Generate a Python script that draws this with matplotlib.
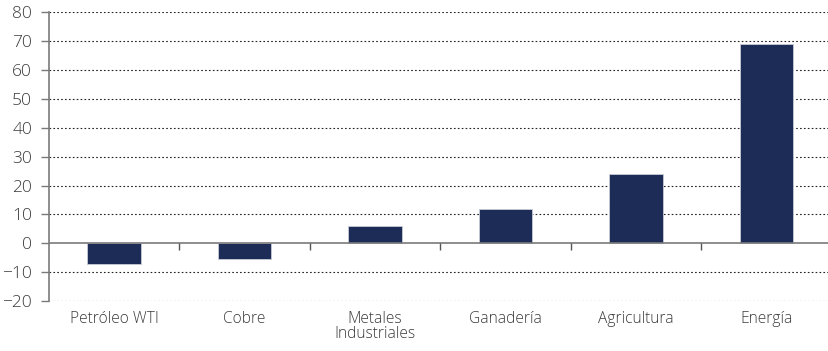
import numpy as np
import matplotlib.pyplot as plt

plt.rcParams['font.family'] = ['Open Sans', 'DejaVu Sans']

# Variación por grupo de materias primas
categorias = ['Petróleo WTI', 'Cobre', 'Metales\nIndustriales', 'Ganadería', 'Agricultura', 'Energía']
valores = [-7.1, -5.3, 6.0, 12.0, 24.0, 69.0]
yticks = [-20, -10, 0, 10, 20, 30, 40, 50, 60, 70, 80]

fig = plt.figure(figsize=(8.29, 3.51), dpi=100)
ax = fig.add_axes([0.059, 0.1425, 0.9445, 0.8225])

x = np.arange(len(categorias))
ax.bar(x, valores, width=0.41, color='#1d2b57', edgecolor='#c8ccd6', linewidth=0.6, zorder=3)

ax.set_xlim(-0.5, len(categorias) - 0.5)
ax.set_ylim(-20, 80)
ax.set_yticks(yticks)
ax.set_xticks(x)
ax.set_xticklabels(categorias, linespacing=0.95)

# grilla punteada excepto en cero
for t in yticks:
    if t != 0:
        ax.axhline(t, color='#222222', linestyle=(0, (1.5, 2)), linewidth=0.8, zorder=1)
ax.axhline(0, color='#7a7a7a', linewidth=1.2, zorder=4)
# marcas de separación entre categorías
ax.vlines(np.arange(0.5, len(categorias) - 0.5), -2.2, 0, color='#555555', linewidth=1.0, zorder=4)

for s in ['top', 'right', 'bottom']:
    ax.spines[s].set_visible(False)
ax.spines['left'].set_color('#7a7a7a')
ax.spines['left'].set_linewidth(1.2)

ax.tick_params(axis='y', length=6, width=1, color='#7a7a7a', pad=6, labelsize=12.5, labelcolor='#3a3a3a')
ax.tick_params(axis='x', length=0, pad=7, labelsize=11.2, labelcolor='#3a3a3a')
for lbl in ax.get_xticklabels() + ax.get_yticklabels():
    lbl.set_fontweight('light')

fig.savefig('out.png', dpi=100)
